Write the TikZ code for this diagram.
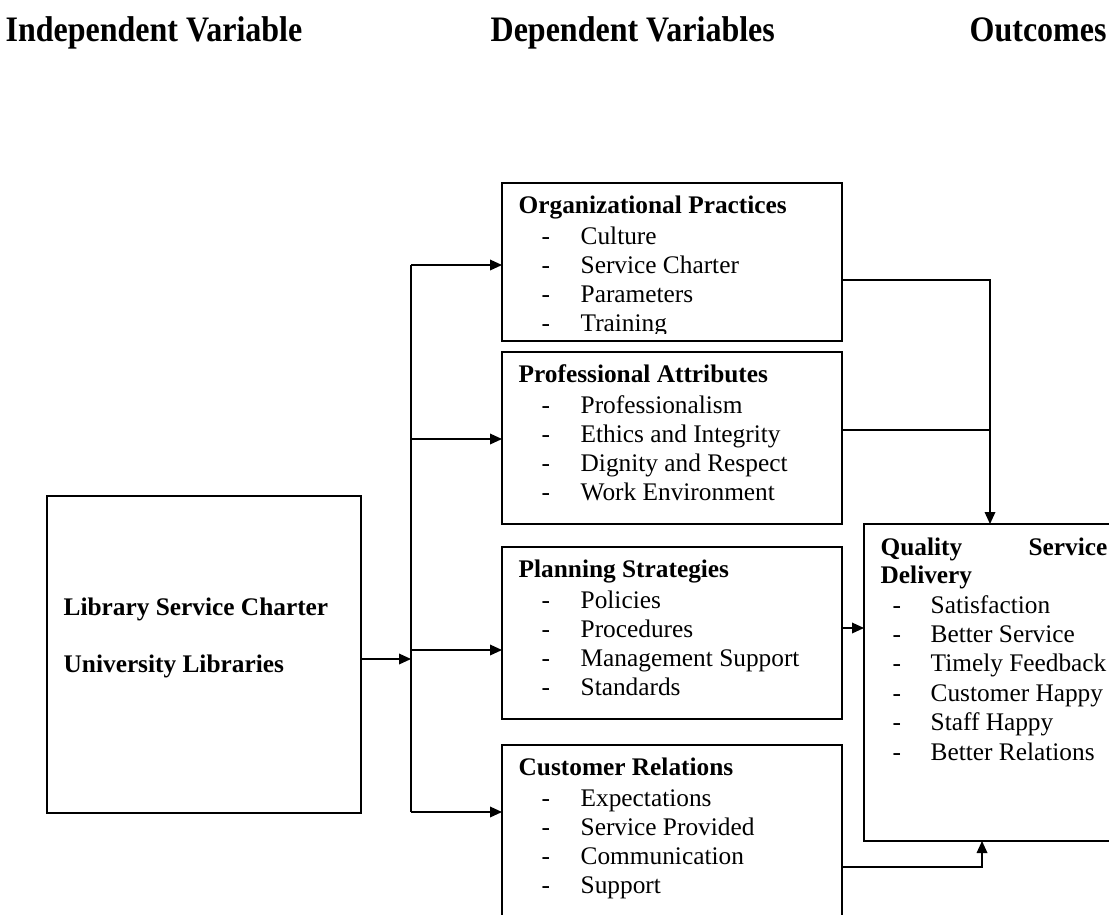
\documentclass[tikz,border=0pt]{standalone}
\usepackage{fontspec}
\setmainfont{Liberation Serif}
\usetikzlibrary{arrows.meta,positioning}

\begin{document}
\begin{tikzpicture}[x=0.75pt,y=-0.75pt,line width=1pt,
    box/.style={draw, rectangle, outer sep=0pt, inner sep=0pt, anchor=north west},
    head/.style={font=\fontsize{24}{28}\selectfont\bfseries, anchor=base west, inner sep=0pt, yscale=1.12},
    ttl/.style={font=\fontsize{19}{22}\selectfont\bfseries, anchor=base west, inner sep=0pt},
    itm/.style={font=\fontsize{19}{22}\selectfont, anchor=base west, inner sep=0pt},
    arr/.style={-{Triangle[length=9pt,width=8pt]}}]
    \useasboundingbox (0,0) rectangle (1109,914);

    % Titulos de columnas
    \node[head] (hind) at (5,41) {Independent Variable};
    \node[head] (hdep) at (490,41) {Dependent Variables};
    \node[head] (hout) at (969,41) {Outcomes};

    % Cajas
    \node[box, minimum width=235.5pt, minimum height=237.75pt] (lib) at (47,496) {};
    \node[box, minimum width=255pt, minimum height=118.5pt] (op) at (502,183) {};
    \node[box, minimum width=255pt, minimum height=129pt] (pa) at (502,352) {};
    \node[box, minimum width=255pt, minimum height=129pt] (ps) at (502,547) {};
    \node[box, minimum width=255pt, minimum height=150pt] (cr) at (502,745) {};
    \node[box, minimum width=202.5pt, minimum height=237.75pt] (qs) at (864,524) {};

    % Caja izquierda
    \node[ttl] (lsc) at (63,615) {Library Service Charter};
    \node[ttl] (ul) at (63,672) {University Libraries};

    % Organizational Practices (texto cortado abajo)
    \node[ttl] (op-t) at (518,213) {Organizational Practices};
    \begin{scope}
        \clip (502,183) rectangle (842,333);
        \foreach \t [count=\i from 0] in {Culture, Service Charter, Parameters, Training} {
            \node[itm] at (541,244+29.3*\i) {-};
            \node[itm] (op-\i) at (580,244+29.3*\i) {\t};
        }
    \end{scope}

    % Professional Attributes
    \node[ttl] (pa-t) at (518,382) {Professional Attributes};
    \foreach \t [count=\i from 0] in {Professionalism, Ethics and Integrity, Dignity and Respect, Work Environment} {
        \node[itm] at (541,413+29.3*\i) {-};
        \node[itm] (pa-\i) at (580,413+29.3*\i) {\t};
    }

    % Planning Strategies
    \node[ttl] (ps-t) at (518,577) {Planning Strategies};
    \foreach \t [count=\i from 0] in {Policies, Procedures, Management Support, Standards} {
        \node[itm] at (541,608+29.3*\i) {-};
        \node[itm] (ps-\i) at (580,608+29.3*\i) {\t};
    }

    % Customer Relations
    \node[ttl] (cr-t) at (518,775) {Customer Relations};
    \foreach \t [count=\i from 0] in {Expectations, Service Provided, Communication, Support} {
        \node[itm] at (541,806+29.3*\i) {-};
        \node[itm] (cr-\i) at (580,806+29.3*\i) {\t};
    }

    % Quality Service Delivery
    \node[ttl] (qs-a) at (880,555) {Quality};
    \node[ttl, anchor=base east] (qs-b) at (1108,555) {Service};
    \node[ttl] (qs-c) at (880,583) {Delivery};
    \foreach \t [count=\i from 0] in {Satisfaction, Better Service, Timely Feedback, Customer Happy, Staff Happy, Better Relations} {
        \node[itm] at (892,613+29.4*\i) {-};
        \node[itm] (qs-\i) at (930,613+29.4*\i) {\t};
    }

    % Conectores
    \coordinate (s0) at (411,659);
    \coordinate (s1) at (411,265);
    \coordinate (s2) at (411,439);
    \coordinate (s3) at (411,650);
    \coordinate (s4) at (411,812);
    \coordinate (m1) at (990,280);
    \coordinate (m2) at (990,430);
    \coordinate (m3) at (864,628);
    \coordinate (m4) at (982,867);

    \draw[arr] (lib.east |- s0) -- (s0);
    \draw (s1) -- (s4);
    \draw[arr] (s1) -- (op.west |- s1);
    \draw[arr] (s2) -- (pa.west |- s2);
    \draw[arr] (s3) -- (ps.west |- s3);
    \draw[arr] (s4) -- (cr.west |- s4);

    \draw[arr] (op.east |- m1) -| (qs.north -| m1);
    \draw (pa.east |- m2) -- (m2);
    \draw[arr] (ps.east |- m3) -- (m3);
    \draw[arr] (cr.east |- m4) -| (qs.south -| m4);
\end{tikzpicture}
\end{document}
